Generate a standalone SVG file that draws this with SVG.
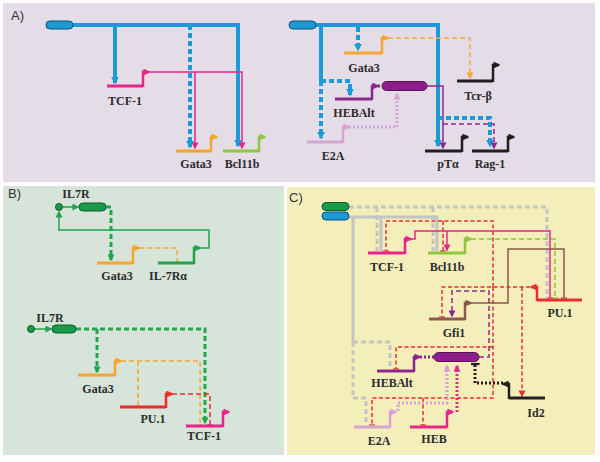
<svg xmlns="http://www.w3.org/2000/svg" width="600" height="462" viewBox="0 0 600 462">
<defs>
<style>
.lbl{font-family:"Liberation Serif","Times New Roman",serif;font-weight:bold;font-size:12px;fill:#2b2b2b;text-anchor:middle}
.plbl{font-family:"Liberation Sans",Arial,sans-serif;font-size:13px;fill:#333}
.gene{fill:none;stroke-width:3}
.c{fill:none}
.thk{stroke-width:4}
.med{stroke-width:3}
.thn{stroke-width:1.5}
.dash{stroke-dasharray:5,3}
.dsh2{stroke-dasharray:4,2.5}
.dot{stroke-dasharray:2,2}
</style>
<marker id="aBlue" viewBox="0 0 10 10" refX="8" refY="5" markerWidth="8" markerHeight="8" markerUnits="userSpaceOnUse" orient="auto"><path d="M0,0L10,5L0,10z" fill="#1c9ad6"/></marker>
<marker id="aMag" viewBox="0 0 10 10" refX="8" refY="5" markerWidth="7" markerHeight="7" markerUnits="userSpaceOnUse" orient="auto"><path d="M0,0L10,5L0,10z" fill="#e6268c"/></marker>
<marker id="aOr" viewBox="0 0 10 10" refX="8" refY="5" markerWidth="7" markerHeight="7" markerUnits="userSpaceOnUse" orient="auto"><path d="M0,0L10,5L0,10z" fill="#f5a631"/></marker>
<marker id="aLime" viewBox="0 0 10 10" refX="8" refY="5" markerWidth="7" markerHeight="7" markerUnits="userSpaceOnUse" orient="auto"><path d="M0,0L10,5L0,10z" fill="#8dc63f"/></marker>
<marker id="aBlk" viewBox="0 0 10 10" refX="8" refY="5" markerWidth="7" markerHeight="7" markerUnits="userSpaceOnUse" orient="auto"><path d="M0,0L10,5L0,10z" fill="#231f20"/></marker>
<marker id="aPur" viewBox="0 0 10 10" refX="8" refY="5" markerWidth="7" markerHeight="7" markerUnits="userSpaceOnUse" orient="auto"><path d="M0,0L10,5L0,10z" fill="#8a288f"/></marker>
<marker id="aPink" viewBox="0 0 10 10" refX="8" refY="5" markerWidth="7" markerHeight="7" markerUnits="userSpaceOnUse" orient="auto"><path d="M0,0L10,5L0,10z" fill="#d6a3d3"/></marker>
<marker id="aRed" viewBox="0 0 10 10" refX="8" refY="5" markerWidth="7" markerHeight="7" markerUnits="userSpaceOnUse" orient="auto"><path d="M0,0L10,5L0,10z" fill="#ec2d2d"/></marker>
<marker id="aGrn" viewBox="0 0 10 10" refX="8" refY="5" markerWidth="7" markerHeight="7" markerUnits="userSpaceOnUse" orient="auto"><path d="M0,0L10,5L0,10z" fill="#22a34c"/></marker>
<marker id="aBrn" viewBox="0 0 10 10" refX="8" refY="5" markerWidth="7" markerHeight="7" markerUnits="userSpaceOnUse" orient="auto"><path d="M0,0L10,5L0,10z" fill="#8c5a4c"/></marker>
<marker id="bOr" viewBox="0 0 10 10" refX="5" refY="5" markerWidth="6" markerHeight="6" markerUnits="userSpaceOnUse" orient="auto"><path d="M5,0V10" stroke="#f5a631" stroke-width="2"/></marker>
<marker id="bRed" viewBox="0 0 10 10" refX="5" refY="5" markerWidth="6" markerHeight="6" markerUnits="userSpaceOnUse" orient="auto"><path d="M5,0V10" stroke="#ec2d2d" stroke-width="2"/></marker>
<marker id="bMag" viewBox="0 0 10 10" refX="5" refY="5" markerWidth="6" markerHeight="6" markerUnits="userSpaceOnUse" orient="auto"><path d="M5,0V10" stroke="#e6268c" stroke-width="2"/></marker>
<marker id="bLime" viewBox="0 0 10 10" refX="5" refY="5" markerWidth="6" markerHeight="6" markerUnits="userSpaceOnUse" orient="auto"><path d="M5,0V10" stroke="#8dc63f" stroke-width="2"/></marker>
<marker id="bBrn" viewBox="0 0 10 10" refX="5" refY="5" markerWidth="6" markerHeight="6" markerUnits="userSpaceOnUse" orient="auto"><path d="M5,0V10" stroke="#8c5a4c" stroke-width="2"/></marker>
<marker id="bBlk" viewBox="0 0 10 10" refX="5" refY="5" markerWidth="9" markerHeight="9" markerUnits="userSpaceOnUse" orient="auto"><path d="M5,0V10" stroke="#231f20" stroke-width="2.5"/></marker>
<marker id="bGray" viewBox="0 0 10 10" refX="5" refY="5" markerWidth="7" markerHeight="7" markerUnits="userSpaceOnUse" orient="auto"><path d="M5,0V10" stroke="#c4c4c4" stroke-width="2"/></marker>
</defs>

<!-- panel backgrounds -->
<rect x="3" y="3" width="592" height="179" fill="#e4dde7"/>
<rect x="3" y="186" width="281" height="269" fill="#d6e4d9"/>
<rect x="287" y="187" width="308" height="268" fill="#f4eebb"/>
<text class="plbl" x="11" y="20">A)</text>
<text class="plbl" x="8" y="198">B)</text>
<text class="plbl" x="289" y="202">C)</text>

<!-- connectors -->
<g id="connectors">
<!-- A left -->
<path class="c thk" stroke="#1c9ad6" d="M73,25H238V146" marker-end="url(#aBlue)"/>
<path class="c thk" stroke="#1c9ad6" d="M115,25V83" marker-end="url(#aBlue)"/>
<path class="c thk dash" stroke="#1c9ad6" d="M190,25V147" marker-end="url(#aBlue)"/>
<path class="c thn" stroke="#e6268c" d="M149,72H242V148" marker-end="url(#aMag)"/>
<path class="c thn" stroke="#e6268c" d="M195,72V148" marker-end="url(#aMag)"/>
<!-- A right -->
<path class="c thk" stroke="#1c9ad6" d="M316,25H438V146" marker-end="url(#aBlue)"/>
<path class="c thk" stroke="#1c9ad6" d="M321,25V81"/>
<path class="c thk dash" stroke="#1c9ad6" d="M321,81V138" marker-end="url(#aBlue)"/>
<path class="c thk dash" stroke="#1c9ad6" d="M321,81H350V95" marker-end="url(#aBlue)"/>
<path class="c thk dash" stroke="#1c9ad6" d="M358,27V50" marker-end="url(#aBlue)"/>
<path class="c thn dash" stroke="#f5a631" d="M388,38H470V78" marker-end="url(#aOr)"/>
<path class="c med dot" stroke="#8a288f" d="M378,86H382"/>
<path class="c thn" stroke="#8a288f" d="M427,86H443V148" marker-end="url(#aPur)"/>
<path class="c med dot" stroke="#d6a3d3" d="M349,127H397V94" marker-end="url(#aPink)"/>
<path class="c thk dash" stroke="#1c9ad6" d="M438,118H490V146" marker-end="url(#aBlue)"/>
<path class="c thn dash" stroke="#8a288f" d="M443,124H494V148" marker-end="url(#aPur)"/>
<!-- B top -->
<path class="c thn" stroke="#22a34c" d="M62.5,207H78" marker-end="url(#aGrn)"/>
<path class="c med dash" stroke="#22a34c" d="M106,207H111V260" marker-end="url(#aGrn)"/>
<path class="c thn dash" stroke="#f5a631" d="M139,248H177V262" marker-end="url(#bOr)"/>
<path class="c thn" stroke="#22a34c" d="M200,248H209V230H59V212" marker-end="url(#aGrn)"/>
<!-- B bottom -->
<path class="c thn" stroke="#22a34c" d="M34.5,329H51" marker-end="url(#aGrn)"/>
<path class="c med dash" stroke="#22a34c" d="M76,329H205V423" marker-end="url(#aGrn)"/>
<path class="c med dash" stroke="#22a34c" d="M97,329V372" marker-end="url(#aGrn)"/>
<path class="c thn dash" stroke="#f5a631" d="M121,361H200V425" marker-end="url(#bOr)"/>
<path class="c thn dash" stroke="#f5a631" d="M138,361V406" marker-end="url(#bOr)"/>
<path class="c thn dash" stroke="#ec2d2d" d="M172,394H210V425" marker-end="url(#bRed)"/>
<!-- C gray -->
<path class="c med dash" stroke="#c4c4c4" d="M349,207H547V298"/>
<path class="c med dash" stroke="#c4c4c4" d="M377,207V251"/>
<path class="c med dash" stroke="#c4c4c4" d="M433,207V251"/>
<path class="c med" stroke="#c4c4c4" d="M349,217H437V251"/>
<path class="c med" stroke="#c4c4c4" d="M381,217V251"/>
<path class="c med" stroke="#c4c4c4" d="M353,217V342"/>
<path class="c med dash" stroke="#c4c4c4" d="M353,342H390V369"/>
<path class="c med dash" stroke="#c4c4c4" d="M353,342V398H366V425"/>
<!-- C red -->
<path class="c thn dsh2" stroke="#ec2d2d" d="M530,287H442V317" marker-end="url(#bRed)"/>
<path class="c thn dsh2" stroke="#ec2d2d" d="M522,287V396" marker-end="url(#aRed)"/>
<path class="c thn dsh2" stroke="#ec2d2d" d="M493,287V221H386V251" marker-end="url(#bRed)"/>
<path class="c thn dsh2" stroke="#ec2d2d" d="M443,221V251" marker-end="url(#bRed)"/>
<path class="c thn dsh2" stroke="#ec2d2d" d="M493,287V398H372V425" marker-end="url(#bRed)"/>
<path class="c thn dsh2" stroke="#ec2d2d" d="M423,398V425" marker-end="url(#bRed)"/>
<path class="c thn dsh2" stroke="#ec2d2d" d="M493,347H396V369" marker-end="url(#bRed)"/>
<!-- C magenta / lime / brown -->
<path class="c thn" stroke="#e6268c" d="M411,239H415V231H550V298" marker-end="url(#bMag)"/>
<path class="c thn" stroke="#e6268c" d="M447,231V250" marker-end="url(#aMag)"/>
<path class="c thn dash" stroke="#8dc63f" d="M471,239H555V298" marker-end="url(#bLime)"/>
<path class="c thn" stroke="#8c5a4c" d="M471,303H508V249H564V298" marker-end="url(#bBrn)"/>
<!-- C purple etc -->
<path class="c thn dash" stroke="#8a288f" d="M479,357H489V291H452V316" marker-end="url(#aPur)"/>
<path class="c med dot" stroke="#8a288f" d="M420,357H434"/>
<path class="c med dot" stroke="#231f20" d="M503,383H475V364" marker-end="url(#bBlk)"/>
<path class="c med dot" stroke="#d6a3d3" d="M398,411V403H447V366" marker-end="url(#aPink)"/>
<path class="c med dot" stroke="#e6268c" d="M457,412V366" marker-end="url(#aMag)"/>
</g>

<!-- A left nodes -->
<g id="A_TF1"><rect x="46" y="21" width="27" height="8" rx="4" fill="#1c9ad6" stroke="#0f4e78" stroke-width="1"/></g>
<g id="A_TCF1"><path class="gene" stroke="#e6268c" d="M107,86H143"/><path class="c" stroke="#e6268c" stroke-width="2.5" d="M143,87V72H149" marker-end="url(#aMag)"/><text class="lbl" x="125" y="105">TCF-1</text></g>
<g id="A_Gata3"><path class="gene" stroke="#f5a631" d="M176,151H211"/><path class="c" stroke="#f5a631" stroke-width="2.5" d="M211,152V137H217" marker-end="url(#aOr)"/><text class="lbl" x="196" y="168">Gata3</text></g>
<g id="A_Bcl11b"><path class="gene" stroke="#8dc63f" d="M223,151H259"/><path class="c" stroke="#8dc63f" stroke-width="2.5" d="M259,152V137H265" marker-end="url(#aLime)"/><text class="lbl" x="242" y="168">Bcl11b</text></g>

<!-- A right nodes -->
<g id="A_TF2"><rect x="289" y="21" width="27" height="8" rx="4" fill="#1c9ad6" stroke="#0f4e78" stroke-width="1"/></g>
<g id="A_Gata3b"><path class="gene" stroke="#f5a631" d="M344,53H382"/><path class="c" stroke="#f5a631" stroke-width="2.5" d="M382,54V38H388" marker-end="url(#aOr)"/><text class="lbl" x="364" y="72">Gata3</text></g>
<g id="A_Tcrb"><path class="gene" stroke="#231f20" d="M457,81H493"/><path class="c" stroke="#231f20" stroke-width="2.5" d="M493,82V65H499" marker-end="url(#aBlk)"/><text class="lbl" x="478" y="100">Tcr-β</text></g>
<g id="A_HEBAlt"><path class="gene" stroke="#8a288f" d="M335,99H372"/><path class="c" stroke="#8a288f" stroke-width="2.5" d="M372,100V86H378" marker-end="url(#aPur)"/><text class="lbl" x="354" y="117">HEBAlt</text></g>
<g id="A_Eprot"><rect x="382" y="81.5" width="45" height="9" rx="4.5" fill="#8d1e8a" stroke="#5a1058" stroke-width="1"/></g>
<g id="A_E2A"><path class="gene" stroke="#d6a3d3" d="M307,142H343"/><path class="c" stroke="#d6a3d3" stroke-width="2.5" d="M343,143V127H349" marker-end="url(#aPink)"/><text class="lbl" x="333" y="160">E2A</text></g>
<g id="A_pTa"><path class="gene" stroke="#231f20" d="M425,151H462"/><path class="c" stroke="#231f20" stroke-width="2.5" d="M462,152V137H468" marker-end="url(#aBlk)"/><text class="lbl" x="448" y="168">pTα</text></g>
<g id="A_Rag1"><path class="gene" stroke="#231f20" d="M472,151H508"/><path class="c" stroke="#231f20" stroke-width="2.5" d="M508,152V137H514" marker-end="url(#aBlk)"/><text class="lbl" x="490" y="168">Rag-1</text></g>

<!-- B top nodes -->
<g id="B_IL7R1"><circle cx="59" cy="207" r="3.5" fill="#1a9b4b" stroke="#0d5a2a" stroke-width="1"/><rect x="79" y="203" width="27" height="8" rx="4" fill="#1a9b4b" stroke="#0d5a2a" stroke-width="1"/><text class="lbl" x="76" y="198">IL7R</text></g>
<g id="B_Gata3"><path class="gene" stroke="#f5a631" d="M97,263H133"/><path class="c" stroke="#f5a631" stroke-width="2.5" d="M133,264V248H139" marker-end="url(#aOr)"/><text class="lbl" x="117" y="280">Gata3</text></g>
<g id="B_IL7Ra"><path class="gene" stroke="#22a34c" d="M158,263H194"/><path class="c" stroke="#22a34c" stroke-width="2.5" d="M194,264V248H200" marker-end="url(#aGrn)"/><text class="lbl" x="168" y="280">IL-7Rα</text></g>

<!-- B bottom nodes -->
<g id="B_IL7R2"><circle cx="31" cy="329" r="3.5" fill="#1a9b4b" stroke="#0d5a2a" stroke-width="1"/><rect x="52" y="325" width="24" height="8" rx="4" fill="#1a9b4b" stroke="#0d5a2a" stroke-width="1"/><text class="lbl" x="50" y="322">IL7R</text></g>
<g id="B_Gata3b"><path class="gene" stroke="#f5a631" d="M78,375H115"/><path class="c" stroke="#f5a631" stroke-width="2.5" d="M115,376V361H121" marker-end="url(#aOr)"/><text class="lbl" x="98" y="393">Gata3</text></g>
<g id="B_PU1"><path class="gene" stroke="#ec2d2d" d="M120,407H166"/><path class="c" stroke="#ec2d2d" stroke-width="2.5" d="M166,408V394H172" marker-end="url(#aRed)"/><text class="lbl" x="153" y="423">PU.1</text></g>
<g id="B_TCF1"><path class="gene" stroke="#e6268c" d="M186,426H223"/><path class="c" stroke="#e6268c" stroke-width="2.5" d="M223,427V412H229" marker-end="url(#aMag)"/><text class="lbl" x="204" y="440">TCF-1</text></g>

<!-- C nodes -->
<g id="C_TFs"><rect x="322" y="202.5" width="27" height="8" rx="4" fill="#1a9b4b" stroke="#0d5a2a" stroke-width="1"/><rect x="322" y="212" width="27" height="8" rx="4" fill="#1c9ad6" stroke="#0f4e78" stroke-width="1"/></g>
<g id="C_TCF1"><path class="gene" stroke="#e6268c" d="M368,253H405"/><path class="c" stroke="#e6268c" stroke-width="2.5" d="M405,254V239H411" marker-end="url(#aMag)"/><text class="lbl" x="387" y="271">TCF-1</text></g>
<g id="C_Bcl11b"><path class="gene" stroke="#8dc63f" d="M428,253H465"/><path class="c" stroke="#8dc63f" stroke-width="2.5" d="M465,254V239H471" marker-end="url(#aLime)"/><text class="lbl" x="447" y="271">Bcl11b</text></g>
<g id="C_PU1"><path class="gene" stroke="#ec2d2d" d="M537,300H582"/><path class="c" stroke="#ec2d2d" stroke-width="2.5" d="M537,301V287H531" marker-end="url(#aRed)"/><text class="lbl" x="560" y="317">PU.1</text></g>
<g id="C_Gfi1"><path class="gene" stroke="#8c5a4c" d="M429,319H465"/><path class="c" stroke="#8c5a4c" stroke-width="2.5" d="M465,320V303H471" marker-end="url(#aBrn)"/><text class="lbl" x="454" y="337">Gfi1</text></g>
<g id="C_HEBAlt"><path class="gene" stroke="#8a288f" d="M377,371H414"/><path class="c" stroke="#8a288f" stroke-width="2.5" d="M414,372V357H420" marker-end="url(#aPur)"/><text class="lbl" x="392" y="387">HEBAlt</text></g>
<g id="C_Eprot"><rect x="434" y="352.5" width="45" height="9" rx="4.5" fill="#8d1e8a" stroke="#5a1058" stroke-width="1"/></g>
<g id="C_Id2"><path class="gene" stroke="#231f20" d="M509,398H545"/><path class="c" stroke="#231f20" stroke-width="2.5" d="M509,399V384H503" marker-end="url(#aBlk)"/><text class="lbl" x="536" y="417">Id2</text></g>
<g id="C_E2A"><path class="gene" stroke="#d6a3d3" d="M354,427H390"/><path class="c" stroke="#d6a3d3" stroke-width="2.5" d="M390,428V412H396" marker-end="url(#aPink)"/><text class="lbl" x="379" y="445">E2A</text></g>
<g id="C_HEB"><path class="gene" stroke="#e6268c" d="M410,427H447"/><path class="c" stroke="#e6268c" stroke-width="2.5" d="M447,428V412H453" marker-end="url(#aMag)"/><text class="lbl" x="434" y="443">HEB</text></g>
</svg>
